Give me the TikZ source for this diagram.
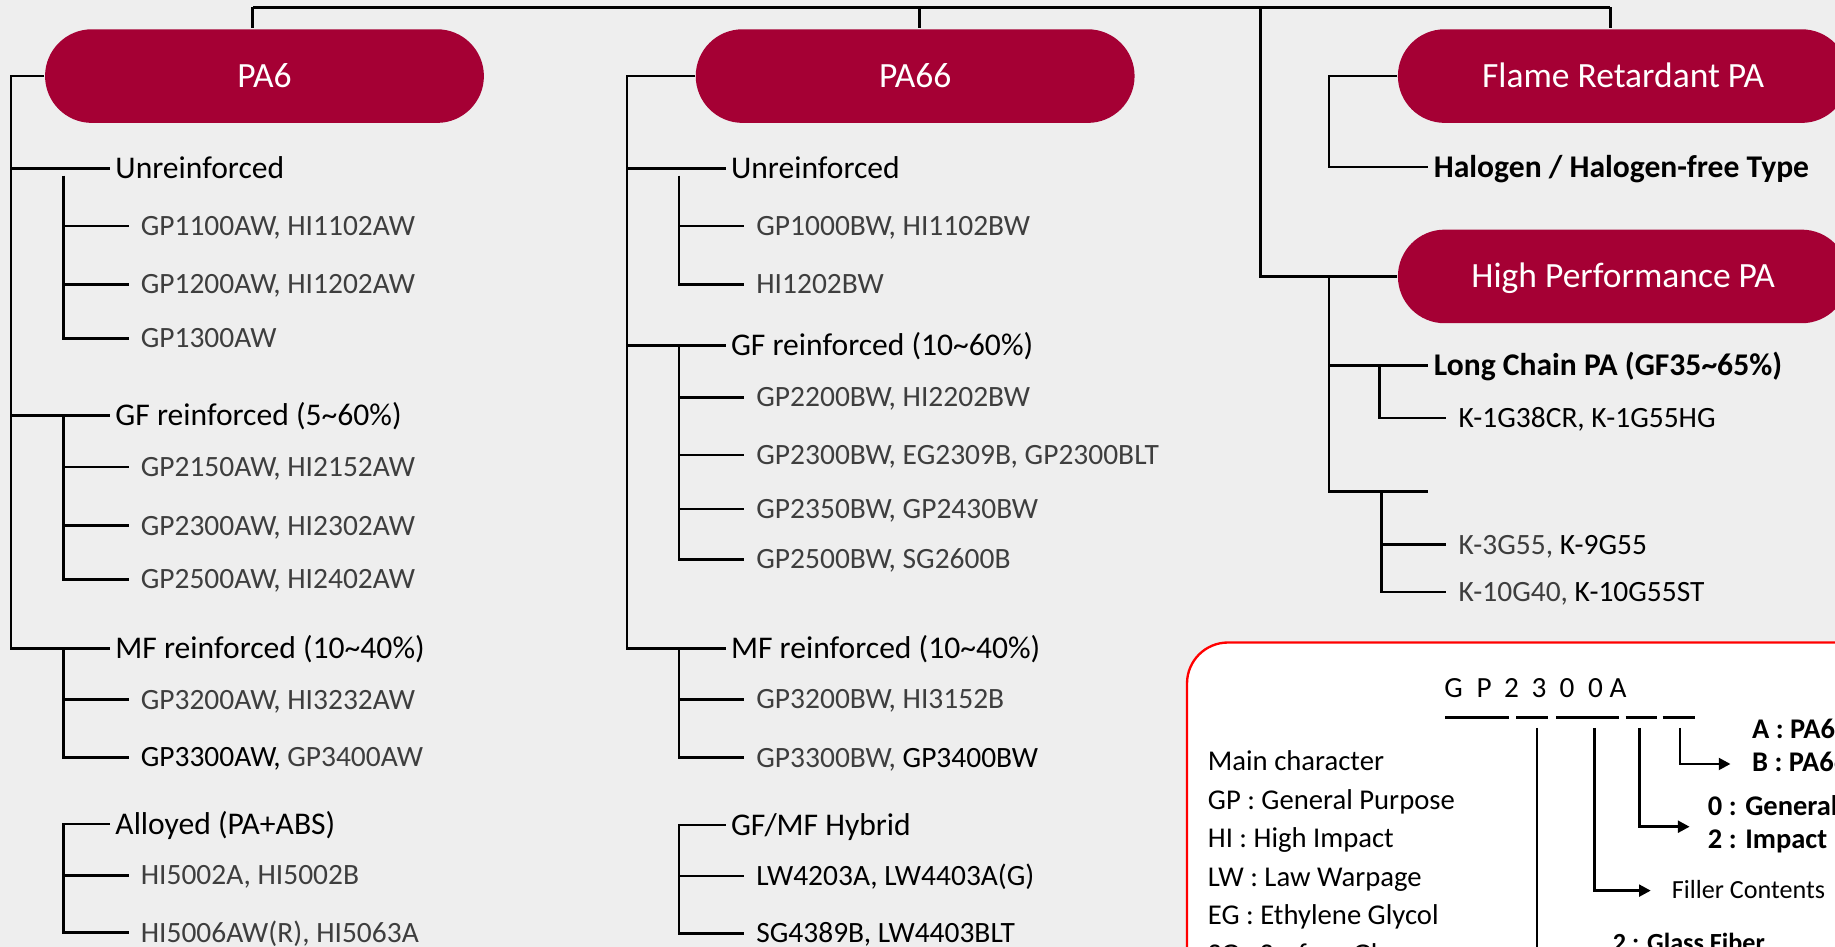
\documentclass[tikz,border=0pt]{standalone}
\usepackage{fontspec}
\setmainfont{Carlito}
\usetikzlibrary{arrows.meta}
\definecolor{bgclr}{RGB}{238,238,238}
\definecolor{pared}{RGB}{165,0,52}
\definecolor{itemclr}{RGB}{62,62,62}
\definecolor{legred}{RGB}{255,0,0}
\newcommand{\dk}[1]{{\color{black}#1}}
\tikzset{
  % connectors
  conn/.style      = {line width=0.7pt, black},
  busline/.style   = {line width=0.9pt, black},
  codebar/.style   = {line width=0.9pt, black},
  codearrow/.style = {line width=0.7pt, black, -{Triangle[length=3pt,width=3pt]}},
  % grade boxes
  pill/.style  = {rectangle, rounded corners=12pt, fill=pared, text=white,
                  minimum height=24pt, inner sep=0pt, text height=5.8pt, text depth=0pt,
                  font=\fontsize{9.1}{10}\selectfont},
  % tree texts
  grp/.style   = {anchor=west, inner xsep=1.2pt, inner ysep=0pt, text height=5.2pt,
                  text depth=0pt, font=\fontsize{8.1}{9}\selectfont},
  grpbf/.style = {grp, font=\fontsize{8.1}{9}\selectfont\bfseries},
  itm/.style   = {anchor=west, inner xsep=2.9pt, inner ysep=0pt, text height=4.9pt,
                  text depth=0pt, text=itemclr, font=\fontsize{7.55}{8}\selectfont},
  % legend
  legbox/.style = {draw=legred, fill=white, line width=0.6pt, rounded corners=10.5pt},
  legtxt/.style = {anchor=west, inner sep=0pt, text height=4.7pt, text depth=0pt,
                   font=\fontsize{7.35}{8}\selectfont},
  legbf/.style  = {legtxt, font=\fontsize{7.3}{8}\selectfont\bfseries},
  legsm/.style  = {legtxt, text height=4.3pt, font=\fontsize{6.7}{8}\selectfont},
  legsmbf/.style= {legsm, font=\fontsize{6.7}{8}\selectfont\bfseries},
  codech/.style = {inner sep=0pt, text height=4.8pt, text depth=0pt,
                   font=\fontsize{7.5}{8}\selectfont},
}

\begin{document}
\begin{tikzpicture}[x=0.3pt, y=-0.3pt]
  % Background and frame
  \useasboundingbox (0,0) rectangle (1568,809);
  \fill[bgclr] (0,0) rectangle (1568,809);
  \clip (0,0) rectangle (1568,809);

  % Grade boxes
  \node[pill, minimum width=112.5pt] (pa6)  at (226,65)      {PA6};
  \node[pill, minimum width=112.5pt] (pa66) at (782,65)      {PA66};
  \node[pill, minimum width=115.5pt] (fr)   at (1387,65)   {Flame Retardant PA};
  \node[pill, minimum width=115.5pt] (hp)   at (1387,236.2) {High Performance PA};

  % Top bus
  \coordinate (bus1) at (216,6.3);
  \coordinate (bus2) at (786,6.3);
  \coordinate (bus3) at (1077,6.3);
  \coordinate (bus4) at (1376,6.3);
  \draw[busline] (bus1) -- (bus4);
  \draw[conn] (bus1) -- (bus1 |- pa6.north);
  \draw[conn] (bus2) -- (bus2 |- pa66.north);
  \draw[conn] (bus4) -- (bus4 |- fr.north);
  \draw[conn] (bus3) |- (hp.west);

  % PA6 tree
  \node[grp] (pa6h1) at (94,144) {Unreinforced};
  \node[grp] (pa6h2) at (94,355) {GF reinforced (5\textasciitilde60\%)};
  \node[grp] (pa6h3) at (94,554) {MF reinforced (10\textasciitilde40\%)};
  \node[grp] (pa6h4) at (94,704) {Alloyed (PA+ABS)};
  \node[itm] (pa6a1) at (110,193) {GP1100AW, HI1102AW};
  \node[itm] (pa6a2) at (110,243) {GP1200AW, HI1202AW};
  \node[itm] (pa6a3) at (110,289) {GP1300AW};
  \node[itm] (pa6b1) at (110,399) {GP2150AW, HI2152AW};
  \node[itm] (pa6b2) at (110,449) {GP2300AW, HI2302AW};
  \node[itm] (pa6b3) at (110,495) {GP2500AW, HI2402AW};
  \node[itm] (pa6c1) at (110,598) {GP3200AW, HI3232AW};
  \node[itm] (pa6c2) at (110,647) {\dk{GP3300AW,} GP3400AW};
  \node[itm] (pa6d1) at (110,748) {HI5002A, HI5002B};
  \node[itm] (pa6d2) at (110,797) {HI5006AW(R), HI5063A};
  \coordinate (pa6sp) at (9.5,0);
  \coordinate (pa6sb) at (54,150);
  \draw[conn] (pa6.west) -| (pa6sp |- pa6h3.west) -- (pa6h3.west);
  \foreach \h in {pa6h1,pa6h2}
    \draw[conn] (pa6sp |- \h.west) -- (\h.west);
  \draw[conn] (pa6sb) |- (pa6a3.west);
  \draw[conn] (pa6sb |- pa6h2.west) |- (pa6b3.west);
  \draw[conn] (pa6sb |- pa6h3.west) |- (pa6c2.west);
  \draw[conn] (pa6h4.west) -- (pa6sb |- pa6h4.west) |- (pa6d2.west);
  \foreach \i in {pa6a1,pa6a2,pa6b1,pa6b2,pa6c1,pa6d1}
    \draw[conn] (pa6sb |- \i.west) -- (\i.west);

  % PA66 tree
  \node[grp] (pa66h1) at (620,144)   {Unreinforced};
  \node[grp] (pa66h2) at (620,295.4) {GF reinforced (10\textasciitilde60\%)};
  \node[grp] (pa66h3) at (620,554)   {MF reinforced (10\textasciitilde40\%)};
  \node[grp] (pa66h4) at (620,705)   {GF/MF Hybrid};
  \node[itm] (pa66a1) at (636,193)   {GP1000BW, HI1102BW};
  \node[itm] (pa66a2) at (636,243)   {HI1202BW};
  \node[itm] (pa66b1) at (636,339.5) {GP2200BW, HI2202BW};
  \node[itm] (pa66b2) at (636,388.8) {GP2300BW, EG2309B, GP2300BLT};
  \node[itm] (pa66b3) at (636,435)   {GP2350BW, GP2430BW};
  \node[itm] (pa66b4) at (636,478)   {GP2500BW, SG2600B};
  \node[itm] (pa66c1) at (636,597.6) {GP3200BW, HI3152B};
  \node[itm] (pa66c2) at (636,647.4) {GP3300BW, \dk{GP3400BW}};
  \node[itm] (pa66d1) at (636,748.5) {\dk{LW4203A, LW4403A(G)}};
  \node[itm] (pa66d2) at (636,797.5) {\dk{SG4389B, LW4403BLT}};
  \coordinate (pa66sp) at (535.7,0);
  \coordinate (pa66sb) at (580.2,150);
  \draw[conn] (pa66.west) -| (pa66sp |- pa66h3.west) -- (pa66h3.west);
  \foreach \h in {pa66h1,pa66h2}
    \draw[conn] (pa66sp |- \h.west) -- (\h.west);
  \draw[conn] (pa66sb) |- (pa66a2.west);
  \draw[conn] (pa66sb |- pa66h2.west) |- (pa66b4.west);
  \draw[conn] (pa66sb |- pa66h3.west) |- (pa66c2.west);
  \draw[conn] (pa66h4.west) -- (pa66sb |- pa66h4.west) |- (pa66d2.west);
  \foreach \i in {pa66a1,pa66b1,pa66b2,pa66b3,pa66c1,pa66d1}
    \draw[conn] (pa66sb |- \i.west) -- (\i.west);

  % Flame retardant / high performance
  \coordinate (frsp) at (1135.7,0);
  \node[grpbf] (frh1) at (1220.6,142.6) {Halogen / Halogen-free Type};
  \draw[conn] (fr.west) -| (frsp |- frh1.west) -- (frh1.west);
  \node[grpbf] (hph1) at (1220.6,312.5) {Long Chain PA (GF35\textasciitilde65\%)};
  \coordinate (hph2) at (1220.6,420);
  \draw[conn] (hp.west) -| (frsp |- hph2) -- (hph2);
  \draw[conn] (frsp |- hph1.west) -- (hph1.west);
  \node[itm] (hpa1) at (1236,357.1) {\dk{K-1G38CR, K-1G55HG}};
  \node[itm] (hpb1) at (1236,465.3) {K-3G55, \dk{K-9G55}};
  \node[itm] (hpb2) at (1236,505.8) {K-10G40, \dk{K-10G55ST}};
  \coordinate (hpsa) at (1179,312.5);
  \coordinate (hpsb) at (1180.7,420);
  \draw[conn] (hpsa) |- (hpa1.west);
  \draw[conn] (hpsb) |- (hpb2.west);
  \draw[conn] (hpsb |- hpb1.west) -- (hpb1.west);

  % Legend box
  \path[legbox] (1014.3,549) rectangle (1700,900);
  \foreach \c/\x [count=\n] in {G/1242.1,P/1268.2,2/1291.7,3/1315.2,0/1339.1,0/1363.4,A/1382.7}
    \node[codech] (ch\n) at (\x,588) {\c};
  \foreach \a/\b in {1234.9/1289.6,1295.7/1323.1,1329.5/1383.8,1389.1/1416.3,1420.6/1448}
    \draw[codebar] (\a,612.9) -- (\b,612.9);
  \foreach \t [count=\n] in {Main character,GP : General Purpose,HI : High Impact,%
      LW : Law Warpage,EG : Ethylene Glycol,SG : Surface Gloss}
    \node[legtxt] (key\n) at (1031.5,{650.8+32.9*(\n-1)}) {\t};
  \node[legbf] (labA) at (1496.5,623.5) {A : PA6};
  \node[legbf] (labB) at (1496.5,651.3) {B : PA66};
  \node[legbf] (lab0) at (1458.8,689) {0 : General};
  \node[legbf] (lab2) at (1458.8,716.8) {2 : Impact};
  \node[legsm] (filler) at (1428,761) {Filler Contents};
  \node[legsmbf] (glass) at (1377.6,806) {2 : Glass Fiber};
  \coordinate (v1) at (1313.4,622);
  \coordinate (v2) at (1362.4,622);
  \coordinate (v3) at (1400.9,622);
  \coordinate (v4) at (1435.5,622);
  \coordinate (v1end) at (1313.4,830);
  \draw[conn] (v1) -- (v1end);
  \draw[codearrow] (v2) |- ([shift={(-17.4,0)}]filler.west);
  \draw[codearrow] (v3) |- ([shift={(-15,-10.4)}]lab2.west);
  \draw[codearrow] (v4) |- ([shift={(-17.8,1.5)}]labB.west);
\end{tikzpicture}
\end{document}
